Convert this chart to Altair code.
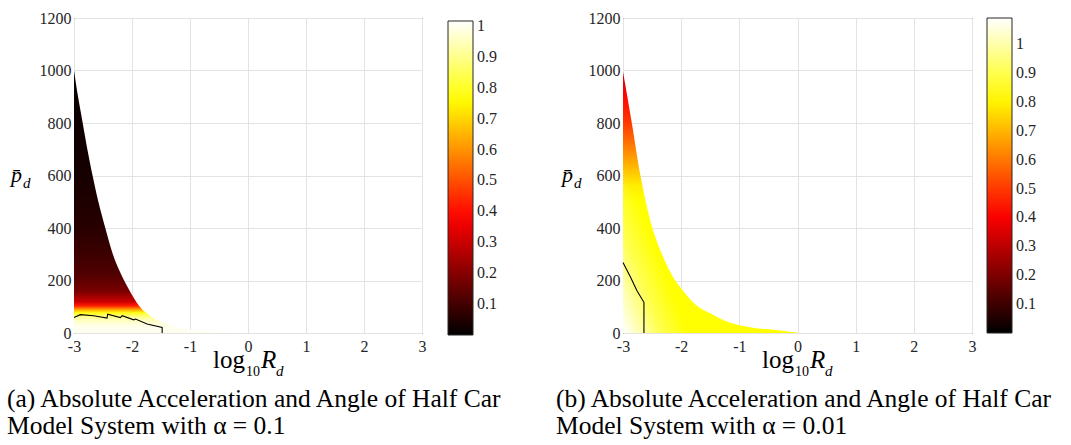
import altair as alt
import pandas as pd

SERIF = "'Liberation Serif', 'Times New Roman', serif"
INK = "#262626"

# ---------------- values ----------------
x_ticks = [-3, -2, -1, 0, 1, 2, 3]
y_ticks = [0, 200, 400, 600, 800, 1000, 1200]
cb_ticks = [0.1, 0.2, 0.3, 0.4, 0.5, 0.6, 0.7, 0.8, 0.9, 1.0]

# panel (a)  alpha = 0.1 : feasible-region boundary (log10 Rd, p_d)
a_bx = [-3.00, -2.93, -2.85, -2.77, -2.68, -2.58, -2.46, -2.33, -2.19, -2.05, -1.88, -1.65, -1.38, -1.00, -0.70, -0.30]
a_bp = [1000, 900, 800, 700, 600, 500, 400, 300, 225, 165, 104, 60, 32, 12, 5, 1]
# panel (a) black contour
a_cx = [-3.00, -2.89, -2.66, -2.43, -2.42, -2.20, -2.17, -1.97, -1.94, -1.74, -1.48, -1.48]
a_cp = [59, 70, 66, 57, 72, 59, 66, 50, 53, 34, 21, 0]
# panel (a) colour profile along p_d (value shown by colormap)
a_prof_p = [0, 20, 40, 55, 65, 77, 90, 104, 120, 160, 225, 300, 400, 500, 700, 1000]
a_prof_v = [1.0, 1.0, 0.97, 0.93, 0.88, 0.78, 0.62, 0.42, 0.30, 0.18, 0.12, 0.09, 0.06, 0.045, 0.025, 0.015]
a_cmax = 1.016

# panel (b)  alpha = 0.01
b_bx = [-3.00, -2.85, -2.70, -2.53, -2.33, -2.10, -2.00, -1.76, -1.50, -1.25, -1.00, -0.79, -0.27, 0.00]
b_bp = [995, 802, 600, 428, 300, 199, 170, 110, 75, 47, 30, 21, 9, 2]
b_cx = [-3.00, -2.87, -2.76, -2.64, -2.64]
b_cp = [269, 212, 161, 117, 0]
b_prof_p = [0, 500, 560, 620, 700, 800, 900, 995]
b_prof_v = [0.82, 0.82, 0.79, 0.72, 0.62, 0.50, 0.42, 0.32]
b_cmax = 1.09

cap_a = ["(a) Absolute Acceleration and Angle of Half Car", "Model System with \u03b1 = 0.1"]
cap_b = ["(b) Absolute Acceleration and Angle of Half Car", "Model System with \u03b1 = 0.01"]


def hot_hex(v, vmax):
    t = max(0.0, min(1.0, v / vmax))
    r = min(1.0, t / 0.375)
    g = min(1.0, max(0.0, (t - 0.375) / 0.375))
    b = min(1.0, max(0.0, (t - 0.75) / 0.25))
    return "#%02x%02x%02x" % (round(r * 255), round(g * 255), round(b * 255))


one = pd.DataFrame({"k": [0]})


def txt(s, x, y, size, italic=False, align="left"):
    return alt.Chart(one).mark_text(
        text=s, font=SERIF, fontSize=size, fontStyle="italic" if italic else "normal",
        align=align, baseline="alphabetic", color="black",
    ).encode(x=alt.value(x), y=alt.value(y))


def panel(bx, bp, cx, cp, prof_p, prof_v, cmax, caption, leg_x, leg_y, leg_len,
          pt_x, anchor=False, white_overlay=False, W=348):
    xenc = alt.X("x:Q", scale=alt.Scale(domain=[-3, 3], nice=False, zero=False),
                 axis=alt.Axis(values=x_ticks, title=None, grid=True, ticks=False, domain=False,
                               labelExpr="'' + datum.value",
                               labelFont=SERIF, labelFontSize=16, labelColor=INK, labelPadding=5,
                               gridColor="#e3e3e3", gridWidth=1, labelFlush=False))
    yenc = alt.Y("p:Q", scale=alt.Scale(domain=[0, 1200], nice=False),
                 axis=alt.Axis(values=y_ticks, title=None, grid=True, ticks=False, domain=False,
                               labelExpr="'' + datum.value",
                               labelFont=SERIF, labelFontSize=16, labelColor=INK, labelPadding=3,
                               gridColor="#e3e3e3", gridWidth=1, labelFlush=False))
    bdf = pd.DataFrame({"x": bx, "p": bp})
    pmax = max(bp)
    stops = [alt.GradientStop(offset=min(1.0, p / pmax), color=hot_hex(v, cmax))
             for p, v in zip(prof_p, prof_v)]
    area = alt.Chart(bdf).mark_area(
        interpolate="monotone",
        color=alt.Gradient(gradient="linear", stops=stops, x1=0, y1=1, x2=0, y2=0)
    ).encode(x=xenc, y=yenc)
    main = [area]
    if white_overlay:
        wstops = [alt.GradientStop(offset=0, color="rgba(255,255,255,1)"),
                  alt.GradientStop(offset=0.3, color="rgba(255,255,255,0.65)"),
                  alt.GradientStop(offset=0.6, color="rgba(255,255,255,0.3)"),
                  alt.GradientStop(offset=1, color="rgba(255,255,255,0)")]
        over = alt.Chart(bdf).mark_area(
            interpolate="monotone",
            color=alt.Gradient(gradient="linear", stops=wstops, x1=0, y1=1, x2=0.279, y2=0.843)
        ).encode(x="x:Q", y="p:Q")
        main.append(over)
    cdf = pd.DataFrame({"x": cx, "p": cp, "i": list(range(len(cx)))})
    contour = alt.Chart(cdf).mark_line(color="black", strokeWidth=1.1).encode(
        x="x:Q", y="p:Q", order="i:Q")
    main.append(contour)
    pdf = pd.DataFrame({"p": prof_p, "v": prof_v})
    leg = alt.Chart(pdf).mark_point(size=0, opacity=1, filled=True, strokeWidth=0).encode(
        x=alt.datum(-3), y="p:Q",
        color=alt.Color("v:Q",
                        scale=alt.Scale(domain=[0, 0.375 * cmax, 0.75 * cmax, cmax],
                                        range=["#000000", "#ff0000", "#ffff00", "#ffffff"],
                                        interpolate="rgb"),
                        legend=alt.Legend(orient="none", legendX=leg_x, legendY=leg_y,
                                          direction="vertical", gradientLength=leg_len,
                                          gradientThickness=25, title=None, values=cb_ticks,
                                          format="~g", labelFont=SERIF, labelFontSize=16,
                                          labelColor=INK, gradientStrokeColor=INK,
                                          gradientStrokeWidth=1, labelOffset=4,
                                          labelOverlap=False)))
    main.append(leg)
    # axis titles and caption
    main += [
        txt("p\u0304", pt_x, 164, 22, italic=True),
        txt("d", pt_x + 12, 170, 15, italic=True),
        txt("log", 139, 350, 25),
        txt("10", 172, 358, 14),
        txt("R", 187, 350, 25, italic=True),
        txt("d", 202, 358, 15, italic=True),
        txt(caption[0], -67, 389, 25.5),
        txt(caption[1], -67, 416, 25.5),
    ]
    if anchor:
        main.append(alt.Chart(one).mark_rect(opacity=0).encode(
            x=alt.value(-73), x2=alt.value(-72), y=alt.value(-17), y2=alt.value(-16)))
    # colorbar tick marks (own scale matching the colorbar)
    cbt = alt.Chart(pd.DataFrame({"v": cb_ticks})).mark_rule(color=INK, strokeWidth=1).encode(
        y=alt.Y("v:Q", scale=alt.Scale(domain=[0, cmax], range=[leg_y + leg_len, leg_y], nice=False,
                                       zero=False), axis=None),
        x=alt.value(leg_x + 21), x2=alt.value(leg_x + 25))
    return alt.layer(alt.layer(*main), cbt).resolve_scale(y="independent").properties(width=W, height=315)


pa = panel(a_bx, a_bp, a_cx, a_cp, a_prof_p, a_prof_v, a_cmax, cap_a, 374, 3, 314, -63, anchor=True, W=348)
pb = panel(b_bx, b_bp, b_cx, b_cp, b_prof_p, b_prof_v, b_cmax, cap_b, 364, 0, 315, -61,
           white_overlay=True, W=349)

chart = alt.hconcat(pa, pb, spacing=201, bounds="flush").resolve_scale(color="independent").configure(
    background="white", padding=0
).configure_view(stroke=INK, strokeWidth=1)

chart.save("out.html", embed_options={"renderer": "svg", "actions": False})
